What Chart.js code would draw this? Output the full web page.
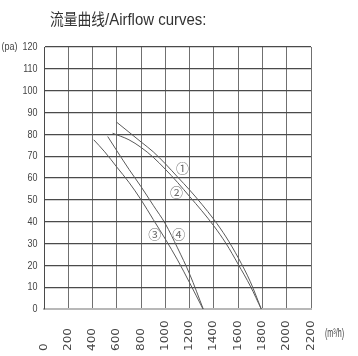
<!DOCTYPE html>
<html>
<head>
<meta charset="utf-8">
<script src="https://cdn.jsdelivr.net/npm/chart.js@4.4.1/dist/chart.umd.min.js"></script>
<style>
  html, body { margin: 0; padding: 0; background: #fff; }
</style>
</head>
<body>
<canvas id="grafica" width="358" height="356"></canvas>
<script>
// axis ticks
const flowTicks = [0, 200, 400, 600, 800, 1000, 1200, 1400, 1600, 1800, 2000, 2200];
const pressureTicks = [0, 10, 20, 30, 40, 50, 60, 70, 80, 90, 100, 110, 120];

// curves (m3/h, pa)
const flow1 = [600, 700, 800, 900, 1000, 1100, 1200, 1300, 1400, 1500, 1600, 1700, 1790];
const pressure1 = [85.5, 81, 76.5, 72, 66.5, 60.5, 54.5, 48, 41, 33, 23.5, 12.5, 0];
const flow2 = [565, 700, 800, 900, 1000, 1100, 1200, 1300, 1400, 1500, 1600, 1700, 1790];
const pressure2 = [80.5, 77.5, 74, 69.5, 64, 58, 51.5, 45, 38, 30, 20.5, 10.5, 0];
const flow3 = [410, 500, 600, 700, 800, 900, 1000, 1100, 1200, 1310];
const pressure3 = [77.5, 72, 65, 58, 50, 41, 32, 22.5, 12, 0];
const flow4 = [525, 600, 700, 800, 900, 1000, 1100, 1200, 1312];
const pressure4 = [79, 72.5, 64, 56, 47.5, 39, 28, 16, 0];

// circled curve numbers
const curveNames = ['①', '②', '③', '④'];
const nameFlow = [1141, 1092, 913, 1111];
const namePressure = [64.5, 53.5, 34.5, 34.5];

const titleCn = '流量曲线';
const titleEn = '/Airflow curves:';
const unitX = '(m³/h)';
const unitY = '(pa)';

function puntos(xs, ys) {
    return xs.map(function (x, i) { return { x: x, y: ys[i] }; });
}

function curva(xs, ys) {
    return {
        data: puntos(xs, ys),
        borderColor: '#5a5a5a',
        borderWidth: 1,
        pointRadius: 0,
        fill: false,
        cubicInterpolationMode: 'monotone'
    };
}

const sans = '"Liberation Sans", Arial, sans-serif';

// draws a text squeezed horizontally by factor k
function apretado(ctx, txt, x, y, k) {
    ctx.save();
    ctx.translate(x, y);
    ctx.scale(k, 1);
    ctx.fillText(txt, 0, 0);
    ctx.restore();
}

const textos = {
    id: 'textos',
    afterDraw(chart) {
        const ctx = chart.ctx;
        const xs = chart.scales.x, ys = chart.scales.y;
        ctx.save();
        ctx.fillStyle = '#333';
        ctx.textAlign = 'left';
        ctx.textBaseline = 'alphabetic';

        // title, squeezed to the width seen in the picture
        ctx.font = '16px "Noto Sans CJK SC"';
        let w = ctx.measureText(titleCn).width;
        apretado(ctx, titleCn, 50, 25, 55 / w);
        ctx.font = '17px ' + sans;
        w = ctx.measureText(titleEn).width;
        apretado(ctx, titleEn, 105, 25, 101.5 / w);

        // y tick labels
        ctx.fillStyle = '#444';
        ctx.font = '11.5px ' + sans;
        ctx.textAlign = 'right';
        ctx.textBaseline = 'middle';
        ys.ticks.forEach(function (t) {
            apretado(ctx, String(t.value), 37.5, ys.getPixelForValue(t.value), 0.78);
        });
        ctx.textAlign = 'left';
        apretado(ctx, unitY, 1.5, ys.getPixelForValue(pressureTicks[pressureTicks.length - 1]), 0.78);

        // x tick labels, vertical, bottom aligned
        ctx.font = '12px "DejaVu Sans"';
        xs.ticks.forEach(function (t) {
            const px = xs.getPixelForValue(t.value);
            ctx.save();
            ctx.translate(px, 351);
            ctx.rotate(-Math.PI / 2);
            ctx.scale(1, 0.82);
            ctx.fillText(String(t.value), 0, 0);
            ctx.restore();
        });

        // unit of x
        ctx.font = '12px ' + sans;
        w = ctx.measureText(unitX).width;
        apretado(ctx, unitX, 325, 334, 19 / w);

        // curve numbers
        ctx.fillStyle = '#6a6a6a';
        ctx.textAlign = 'center';
        ctx.font = '13px "Noto Sans CJK SC"';
        curveNames.forEach(function (n, i) {
            ctx.fillText(n, xs.getPixelForValue(nameFlow[i]), ys.getPixelForValue(namePressure[i]));
        });
        ctx.restore();
    }
};

let ctx = document.getElementById('grafica').getContext('2d');
let miGrafica = new Chart(ctx, {
    type: 'line',
    data: {
        datasets: [
            curva(flow1, pressure1),
            curva(flow2, pressure2),
            curva(flow3, pressure3),
            curva(flow4, pressure4)
        ]
    },
    options: {
        responsive: false,
        animation: false,
        layout: { padding: { top: 47, right: 47, left: 0, bottom: 0 } },
        plugins: {
            legend: { display: false },
            tooltip: { enabled: false },
            title: { display: false }
        },
        scales: {
            x: {
                type: 'linear',
                min: flowTicks[0],
                max: flowTicks[flowTicks.length - 1],
                afterBuildTicks: function (s) { s.ticks = flowTicks.map(function (v) { return { value: v }; }); },
                afterFit: function (s) { s.height = 47; },
                ticks: { display: false },
                grid: { color: '#707070', lineWidth: 1, drawTicks: false },
                border: { color: '#b8b8b8', width: 2 }
            },
            y: {
                type: 'linear',
                min: pressureTicks[0],
                max: pressureTicks[pressureTicks.length - 1],
                afterBuildTicks: function (s) { s.ticks = pressureTicks.map(function (v) { return { value: v }; }); },
                afterFit: function (s) { s.width = 44; },
                ticks: { display: false },
                grid: {
                    drawTicks: false,
                    lineWidth: 1.3,
                    color: function (c) { return c.tick && c.tick.value === 0 ? '#b8b8b8' : '#4a4a4a'; }
                },
                border: { color: '#4a4a4a', width: 1 }
            }
        }
    },
    plugins: [textos]
});
</script>
</body>
</html>
